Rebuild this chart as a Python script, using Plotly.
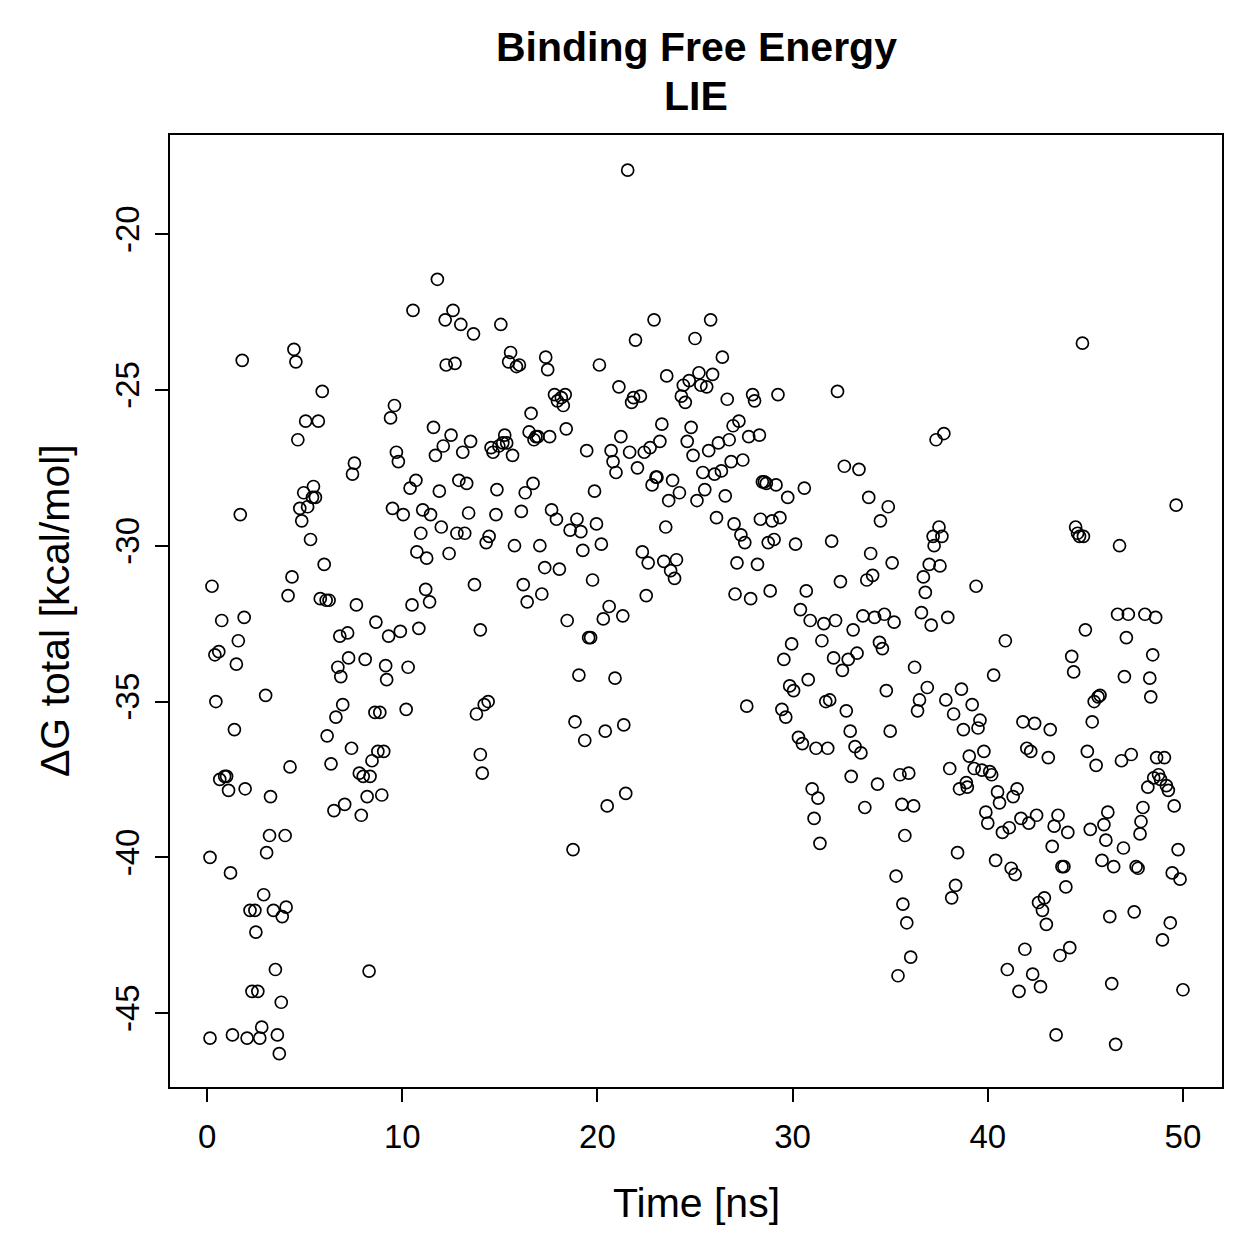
import plotly.graph_objects as go

time_ns = [
    0.15, 0.15, 0.25, 0.4, 0.75, 0.45, 0.6, 0.65, 0.9, 1.0, 1.1, 1.2, 1.3, 1.4, 1.5, 1.6, 1.7, 1.8, 1.9, 1.95,
    2.05, 2.2, 2.3, 2.45, 2.5, 2.6, 2.7, 2.8, 2.9, 3.0, 3.05, 3.2, 3.25, 3.4, 3.5, 3.6, 3.7, 3.8, 3.85, 4.0,
    4.05, 4.15, 4.25, 4.35, 4.45, 4.55, 4.65, 4.75, 4.85, 4.95, 5.05, 5.15, 5.3, 5.4, 5.45, 5.55, 5.7, 5.8, 5.9, 6.0,
    6.1, 6.25, 6.15, 6.35, 6.5, 6.6, 6.7, 6.8, 6.85, 6.95, 7.05, 7.2, 7.25, 7.4, 7.45, 7.55, 7.65, 7.8, 7.9, 8.0,
    8.1, 8.2, 8.3, 8.35, 8.45, 8.6, 8.65, 8.75, 8.85, 8.95, 9.05, 9.15, 9.2, 9.3, 9.4, 9.5, 9.6, 9.7, 9.8, 9.9,
    10.05, 10.2, 10.3, 10.4, 10.5, 10.55, 10.7, 10.75, 10.85, 10.95, 11.05, 11.2, 11.25, 11.4, 11.45, 11.6, 11.7, 11.8, 11.9, 12.0,
    12.1, 12.2, 12.25, 12.4, 12.5, 12.6, 12.7, 12.8, 12.9, 13.0, 13.1, 13.2, 13.3, 13.4, 13.5, 13.65, 13.7, 13.8, 14.0, 14.0,
    14.1, 14.2, 14.3, 14.4, 14.45, 14.55, 14.65, 14.8, 14.85, 14.95, 15.05, 15.15, 15.25, 15.35, 15.45, 15.55, 15.65, 15.75, 15.85, 16.0,
    16.1, 16.2, 16.3, 16.4, 16.5, 16.6, 16.7, 16.75, 16.85, 16.95, 17.05, 17.15, 17.3, 17.35, 17.45, 17.55, 17.65, 17.8, 17.9, 17.95,
    18.05, 18.15, 18.25, 18.35, 18.4, 18.45, 18.6, 18.75, 18.85, 18.95, 19.05, 19.15, 19.25, 19.35, 19.45, 19.55, 19.65, 19.75, 19.85, 19.95,
    20.1, 20.2, 20.3, 20.4, 20.5, 20.6, 20.7, 20.8, 20.9, 20.95, 21.1, 21.2, 21.3, 21.35, 21.45, 21.55, 21.65, 21.75, 21.85, 21.95,
    22.05, 22.2, 22.3, 22.4, 22.5, 22.6, 22.7, 22.8, 22.9, 23.0, 23.05, 23.2, 23.3, 23.4, 23.5, 23.55, 23.65, 23.75, 23.85, 23.95,
    24.05, 24.2, 24.3, 24.4, 24.5, 24.6, 24.7, 24.8, 24.9, 25.0, 25.1, 25.2, 25.3, 25.4, 25.5, 25.6, 25.7, 25.8, 25.9, 26.0,
    26.1, 26.2, 26.35, 26.4, 26.55, 26.65, 26.75, 26.85, 26.95, 27.0, 27.05, 27.15, 27.25, 27.35, 27.45, 27.55, 27.65, 27.75, 27.85, 27.95,
    28.05, 28.2, 28.3, 28.35, 28.45, 28.55, 28.65, 28.75, 28.85, 28.95, 29.05, 29.15, 29.25, 29.35, 29.45, 29.55, 29.65, 29.75, 29.85, 29.95,
    30.05, 30.15, 30.3, 30.4, 30.5, 30.6, 30.7, 30.8, 30.9, 31.0, 31.1, 31.2, 31.3, 31.4, 31.5, 31.6, 31.7, 31.8, 31.9, 32.0,
    32.1, 32.2, 32.3, 32.45, 32.55, 32.65, 32.75, 32.85, 32.95, 33.0, 33.1, 33.2, 33.3, 33.4, 33.5, 33.6, 33.7, 33.8, 33.9, 34.0,
    34.1, 34.2, 34.35, 34.45, 34.5, 34.6, 34.7, 34.8, 34.9, 35.0, 35.1, 35.2, 35.3, 35.4, 35.5, 35.6, 35.65, 35.75, 35.85, 35.95,
    36.05, 36.2, 36.25, 36.4, 36.5, 36.6, 36.7, 36.8, 36.9, 37.0, 37.1, 37.2, 37.25, 37.35, 37.5, 37.55, 37.65, 37.75, 37.85, 37.95,
    38.05, 38.15, 38.25, 38.35, 38.45, 38.55, 38.65, 38.75, 38.9, 38.95, 39.05, 39.2, 39.3, 39.4, 39.5, 39.6, 39.7, 39.8, 39.9, 40.0,
    40.1, 40.2, 40.3, 40.4, 40.5, 40.6, 40.75, 40.9, 41.0, 41.1, 41.2, 41.3, 41.4, 41.5, 41.6, 41.7, 41.8, 41.9, 42.0, 42.1,
    42.2, 42.3, 42.4, 42.5, 42.6, 42.7, 42.8, 42.9, 43.0, 43.1, 43.2, 43.3, 43.4, 43.5, 43.6, 43.7, 43.8, 43.9, 44.0, 44.1,
    44.2, 44.3, 44.4, 44.5, 44.6, 44.7, 44.85, 44.9, 45.0, 45.1, 45.25, 45.35, 45.45, 45.55, 45.65, 45.75, 45.85, 45.95, 46.05, 46.15,
    46.25, 46.35, 46.45, 46.55, 46.65, 46.75, 46.85, 46.95, 47.0, 47.1, 47.2, 47.35, 47.5, 47.6, 47.7, 47.8, 47.85, 47.95, 48.05, 48.2,
    48.3, 48.35, 48.45, 48.5, 48.6, 48.65, 48.75, 48.85, 48.95, 49.05, 49.15, 49.25, 49.35, 49.45, 49.55, 49.65, 49.75, 49.85, 50.0,
]

dg_total = [
    -45.8, -40.0, -31.3, -33.5, -32.4, -35.0, -33.4, -37.5, -37.4, -37.4, -37.85, -40.5, -45.7, -35.9, -33.8, -33.05, -29.0, -24.05, -32.3, -37.8,
    -45.8, -41.7, -44.3, -41.7, -42.4, -44.3, -45.8, -45.45, -41.2, -34.8, -39.85, -39.3, -38.05, -41.7, -43.6, -45.7, -46.3, -44.65, -41.9, -39.3,
    -41.6, -31.6, -37.1, -31.0, -23.7, -24.1, -26.6, -28.8, -29.2, -28.3, -26.0, -28.75, -29.8, -28.45, -28.1, -28.45, -26.0, -31.7, -25.05, -30.6,
    -31.75, -31.75, -36.1, -37.0, -38.5, -35.5, -33.9, -32.9, -34.2, -35.1, -38.3, -32.8, -33.6, -36.5, -27.7, -27.35, -31.9, -37.3, -38.65, -37.4,
    -33.65, -38.05, -43.65, -37.4, -36.9, -35.35, -32.45, -36.6, -35.35, -38.0, -36.6, -33.85, -34.3, -32.9, -25.9, -28.8, -25.5, -27.0, -27.3, -32.75,
    -29.0, -35.25, -33.9, -28.15, -31.9, -22.45, -27.9, -30.2, -32.65, -29.6, -28.85, -31.4, -30.4, -31.8, -29.0, -26.2, -27.1, -21.45, -28.25, -29.4,
    -26.8, -22.75, -24.2, -30.25, -26.45, -22.45, -24.15, -29.6, -27.9, -22.9, -27.0, -29.6, -28.0, -28.95, -26.65, -23.2, -31.25, -35.4, -32.7, -36.7,
    -37.3, -35.1, -29.9, -35.0, -29.7, -26.85, -27.0, -29.0, -28.2, -26.8, -22.9, -26.7, -26.45, -26.7, -24.1, -23.8, -27.1, -30.0, -24.25, -24.2,
    -28.9, -31.25, -28.3, -31.8, -26.35, -25.75, -28.0, -26.6, -26.5, -26.5, -30.0, -31.55, -30.7, -23.95, -24.35, -26.5, -28.85, -25.15, -29.15, -25.35,
    -30.75, -25.25, -25.5, -25.15, -26.25, -32.4, -29.5, -39.75, -35.65, -29.15, -34.15, -29.55, -30.15, -36.25, -26.95, -32.95, -32.95, -31.1, -28.25, -29.3,
    -24.2, -29.95, -32.35, -35.95, -38.35, -31.95, -26.95, -27.3, -34.25, -27.65, -24.9, -26.5, -32.25, -35.75, -37.95, -17.95, -27.0, -25.4, -25.25, -23.4,
    -27.5, -25.2, -30.2, -27.0, -31.6, -30.55, -26.85, -28.05, -22.75, -27.8, -27.8, -26.65, -26.1, -30.5, -29.4, -24.55, -28.55, -30.8, -27.9, -31.05,
    -30.45, -28.3, -25.2, -24.85, -25.4, -26.65, -24.7, -26.2, -27.1, -23.35, -28.55, -24.45, -24.85, -27.65, -28.2, -24.9, -26.95, -22.75, -24.5, -27.7,
    -29.1, -26.7, -27.6, -23.95, -28.4, -25.3, -26.6, -27.3, -26.15, -29.3, -31.55, -30.55, -26.0, -29.65, -27.25, -29.9, -35.15, -26.5, -31.7, -25.15,
    -25.35, -30.6, -26.45, -29.15, -27.95, -27.95, -28.0, -29.9, -31.45, -29.2, -29.8, -28.05, -25.15, -29.1, -35.25, -33.65, -35.5, -28.45, -34.5, -33.15,
    -34.65, -29.95, -36.15, -32.05, -36.35, -28.15, -31.45, -34.3, -32.4, -37.8, -38.75, -36.5, -38.1, -39.55, -33.05, -32.5, -35.0, -36.5, -34.95, -29.85,
    -33.6, -32.4, -25.05, -31.15, -34.0, -27.45, -35.3, -33.65, -35.95, -37.4, -32.7, -36.45, -33.45, -27.55, -36.65, -32.25, -38.4, -31.1, -28.45, -30.25,
    -30.95, -32.3, -37.65, -33.1, -29.2, -33.3, -32.2, -34.65, -28.75, -35.95, -30.55, -32.45, -40.6, -43.8, -37.35, -38.3, -41.5, -39.3, -42.1, -37.3,
    -43.2, -38.35, -33.9, -35.3, -34.95, -32.15, -31.0, -31.5, -34.55, -30.6, -32.55, -29.7, -30.0, -26.6, -29.4, -30.65, -29.7, -26.4, -34.95, -32.3,
    -37.15, -41.3, -35.4, -40.9, -39.85, -37.8, -34.6, -35.9, -37.6, -37.75, -36.75, -35.1, -37.15, -31.3, -35.85, -35.6, -37.2, -36.6, -38.55, -38.9,
    -37.25, -37.35, -34.15, -40.1, -37.9, -38.25, -39.2, -33.05, -43.6, -39.05, -40.35, -38.05, -40.55, -37.8, -44.3, -38.75, -35.65, -42.95, -36.5, -38.9,
    -36.6, -43.75, -35.7, -38.65, -41.45, -44.15, -41.7, -41.3, -42.15, -36.8, -35.9, -39.65, -39.0, -45.7, -38.65, -43.15, -40.3, -40.3, -40.95, -39.2,
    -42.9, -33.55, -34.05, -29.4, -29.6, -29.7, -23.5, -29.7, -32.7, -36.6, -39.1, -35.65, -35.0, -37.05, -34.85, -34.8, -40.1, -38.95, -39.45, -38.55,
    -41.9, -44.05, -40.3, -46.0, -32.2, -30.0, -36.9, -39.7, -34.2, -32.95, -32.2, -36.7, -41.75, -40.3, -40.35, -39.25, -38.85, -38.4, -32.2, -37.75,
    -34.25, -34.85, -33.5, -37.45, -32.3, -36.8, -37.35, -37.5, -42.65, -36.8, -37.7, -37.85, -42.1, -40.5, -38.35, -28.7, -39.75, -40.7, -44.25,
]

x_ticks = [0, 10, 20, 30, 40, 50]
y_ticks = [-45, -40, -35, -30, -25, -20]

FONT = "Liberation Sans, Arial, Helvetica, sans-serif"

fig = go.Figure()
fig.add_trace(go.Scatter(
    x=time_ns, y=dg_total, mode="markers",
    marker=dict(symbol="circle-open", size=12, color="black", line=dict(width=1.7, color="black")),
    showlegend=False, hoverinfo="x+y",
))

axis_common = dict(
    showgrid=False, zeroline=False, showline=True, mirror=True,
    linecolor="black", linewidth=2, ticks="outside", ticklen=13, tickwidth=2,
    tickcolor="black", tickfont=dict(family=FONT, size=33, color="black"),
)

fig.update_layout(
    width=1259, height=1259,
    margin=dict(l=170, r=37, t=135, b=172, autoexpand=False),
    paper_bgcolor="white", plot_bgcolor="white",
    font=dict(family=FONT, color="black"),
    xaxis=dict(range=[-1.9, 52.0], tickvals=x_ticks, ticktext=[str(v) for v in x_ticks],
               ticklabelstandoff=6, **axis_common),
    yaxis=dict(range=[-47.37, -16.82], tickvals=y_ticks, ticktext=[str(v) for v in y_ticks],
               tickangle=-90, ticklabelstandoff=3, **axis_common),
    annotations=[
        dict(text="<b>Binding Free Energy</b>", x=0.5, y=1.0924, xref="paper", yref="paper",
             xanchor="center", yanchor="middle", showarrow=False,
             font=dict(family=FONT, size=41, color="black")),
        dict(text="<b>LIE</b>", x=0.5, y=1.041, xref="paper", yref="paper",
             xanchor="center", yanchor="middle", showarrow=False,
             font=dict(family=FONT, size=41, color="black")),
        dict(text="Time [ns]", x=0.5, y=-0.1218, xref="paper", yref="paper",
             xanchor="center", yanchor="middle", showarrow=False,
             font=dict(family=FONT, size=41, color="black")),
        dict(text="ΔG total [kcal/mol]", x=-0.1093, y=0.5, xref="paper", yref="paper",
             xanchor="center", yanchor="middle", showarrow=False, textangle=-90,
             font=dict(family=FONT, size=41, color="black")),
    ],
)

fig.write_html("out.html")
